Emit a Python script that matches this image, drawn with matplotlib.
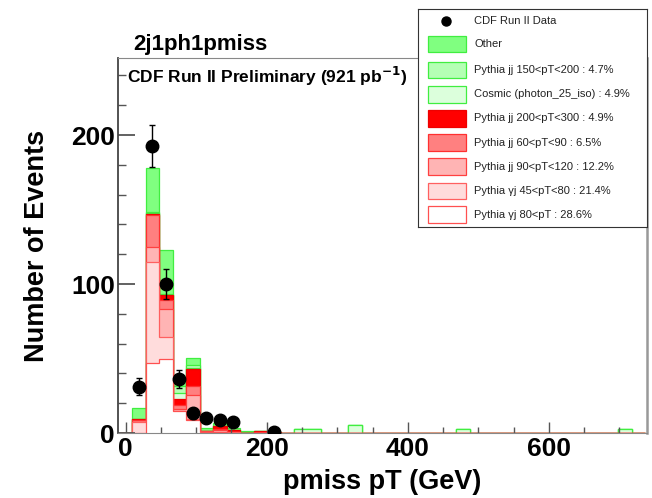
import numpy as np
import matplotlib.pyplot as plt
from matplotlib.patches import Rectangle
from matplotlib.ticker import MultipleLocator

plt.rcParams['font.family'] = ['Liberation Sans', 'DejaVu Sans']

# binning of the histogram
x_lo, bin_w, n_bins = -10.0, 19.15, 39
edges = x_lo + bin_w * np.arange(n_bins + 1)

# per-component contributions, first 12 bins (stack order: bottom -> top)
gj80 = [0, 0, 46.8, 50.0, 14.5, 8.5, 0.5, 0.5, 0, 0, 0, 0]
gj45 = [0, 7.2, 67.7, 14.2, 0.5, 0.7, 0.3, 0.5, 0.5, 0, 0, 0]
jj90 = [0, 0, 10.5, 19.3, 0.8, 16.0, 0.3, 1.0, 0.5, 0, 0, 0]
jj60 = [0, 1.4, 21.0, 5.5, 3.0, 6.3, 0.2, 0.5, 0, 0, 0.5, 0]
jj200 = [0, 0.8, 1.0, 3.5, 3.7, 11.5, 0, 2.2, 0.8, 0.3, 1.0, 1.0]
cosmic = [0, 0, 0.5, 0.3, 4.5, 0.4, 0, 0, 0, 0, 0, 0, 0, 2.5, 2.5, 0, 0, 5.4, 0, 0,
          0, 0, 0, 0, 0, 2.5, 0, 0, 0, 0, 0, 0, 0, 0, 0, 0, 0, 2.5, 0]
jj150 = [0, 0, 0.5, 0.5, 4.5, 2.2, 0, 0, 0.4, 0.6, 0, 0]
other = [0, 7.2, 29.6, 29.5, 6.0, 4.5, 2.3, 1.8, 1.0, 0.6, 0, 0]

labels = ['Pythia \u03b3j 80<pT : 28.6%', 'Pythia \u03b3j 45<pT<80 : 21.4%',
          'Pythia jj 90<pT<120 : 12.2%', 'Pythia jj 60<pT<90 : 6.5%',
          'Pythia jj 200<pT<300 : 4.9%', 'Cosmic (photon_25_iso) : 4.9%',
          'Pythia jj 150<pT<200 : 4.7%', 'Other']
faces = ['white', '#ffdcdc', '#ffb4b4', '#ff8080', '#ff0000', '#dcffdc', '#b4ffb4', '#80ff80']
lines = ['#ff5050', '#ff6060', '#ff4040', '#ff3030', '#ee0000', '#40ee40', '#40ee40', '#40ee40']

# data points
data_bins = [1, 2, 3, 4, 5, 6, 7, 8, 11]
data_y = [31, 192.5, 100, 36, 13.2, 9.9, 8.7, 7.2, 1.0]
data_err = [5.6, 13.9, 10.0, 6.0, 3.6, 3.1, 2.9, 2.7, 1.0]

def pad(v):
    return np.concatenate([np.asarray(v, float), np.zeros(n_bins - len(v))])

comps = [pad(c) for c in [gj80, gj45, jj90, jj60, jj200, cosmic, jj150, other]]
cum = np.cumsum(comps, axis=0)

fig = plt.figure(figsize=(6.52, 4.98), dpi=100)
ax = fig.add_axes([117.7 / 652, 1 - 433 / 498, (647 - 117.7) / 652, (433 - 58) / 498])

for i in range(len(comps) - 1, -1, -1):
    ax.stairs(cum[i], edges, fill=True, baseline=0, facecolor=faces[i],
              edgecolor=lines[i], linewidth=0.9)

data_x = edges[data_bins] + bin_w / 2
ax.errorbar(data_x, data_y, yerr=data_err, fmt='o', color='black', ms=9,
            elinewidth=1.0, capsize=2.5, capthick=1.0, zorder=5)

ax.set_xlim(-11.3, 739)
ax.set_ylim(0, 251.7)
ax.xaxis.set_major_locator(MultipleLocator(200))
ax.xaxis.set_minor_locator(MultipleLocator(50))
ax.yaxis.set_major_locator(MultipleLocator(100))
ax.yaxis.set_minor_locator(MultipleLocator(20))
ax.tick_params(which='both', direction='in', top=False, right=False, color='#555555')
ax.tick_params(axis='y', which='major', length=12, width=1.3, labelsize=19, pad=2)
ax.tick_params(axis='y', which='minor', length=6, width=1.0)
ax.tick_params(axis='x', which='major', length=8, width=1.0, labelsize=19, pad=3)
ax.tick_params(axis='x', which='minor', length=4, width=1.0)
for t in ax.get_xticklabels() + ax.get_yticklabels():
    t.set_fontweight('bold')

ax.spines['left'].set_color('#444444')
ax.spines['left'].set_linewidth(1.3)
ax.spines['top'].set_color('#888888')
ax.spines['right'].set_color('#999999')
ax.spines['right'].set_linewidth(1.8)
ax.spines['bottom'].set_color('#888888')

ax.set_xlabel('pmiss pT (GeV)', fontsize=19.5, fontweight='bold')
ax.xaxis.set_label_coords(0.5, -0.095)
ax.set_ylabel('Number of Events', fontsize=19.5, fontweight='bold')
ax.yaxis.set_label_coords(-0.128, 0.5)

fig.text(133 / 652, 1 - 50 / 498, '2j1ph1pmiss', fontsize=16, fontweight='bold', va='baseline')
fig.text(127 / 652, 1 - 83 / 498, r'CDF Run II Preliminary (921 pb$^{\mathbf{-1}}$)',
         fontsize=12.5, fontweight='bold', va='baseline')

# legend box (pixel coordinates of the picture)
lg = fig.add_axes([418 / 652, 1 - 227 / 498, 229 / 652, 218 / 498])
lg.set_xlim(418, 647)
lg.set_ylim(227, 9)
lg.set_xticks([])
lg.set_yticks([])
for s in lg.spines.values():
    s.set_color('#333333')
    s.set_linewidth(0.8)

rows = [20.7, 44, 70, 94.5, 118.5, 142.8, 166.8, 191, 214.5]
lg.plot([446], [rows[0]], 'o', color='black', ms=6.5)
lg.text(474, rows[0], 'CDF Run II Data', fontsize=8, va='center', color='#222222')
for r, i in zip(rows[1:], range(len(comps) - 1, -1, -1)):
    lg.add_patch(Rectangle((427.5, r - 8.3), 38, 16.6, facecolor=faces[i],
                           edgecolor=lines[i], linewidth=0.9))
    lg.text(474, r, labels[i], fontsize=8, va='center', color='#222222')

fig.savefig('out.png', dpi=100)
